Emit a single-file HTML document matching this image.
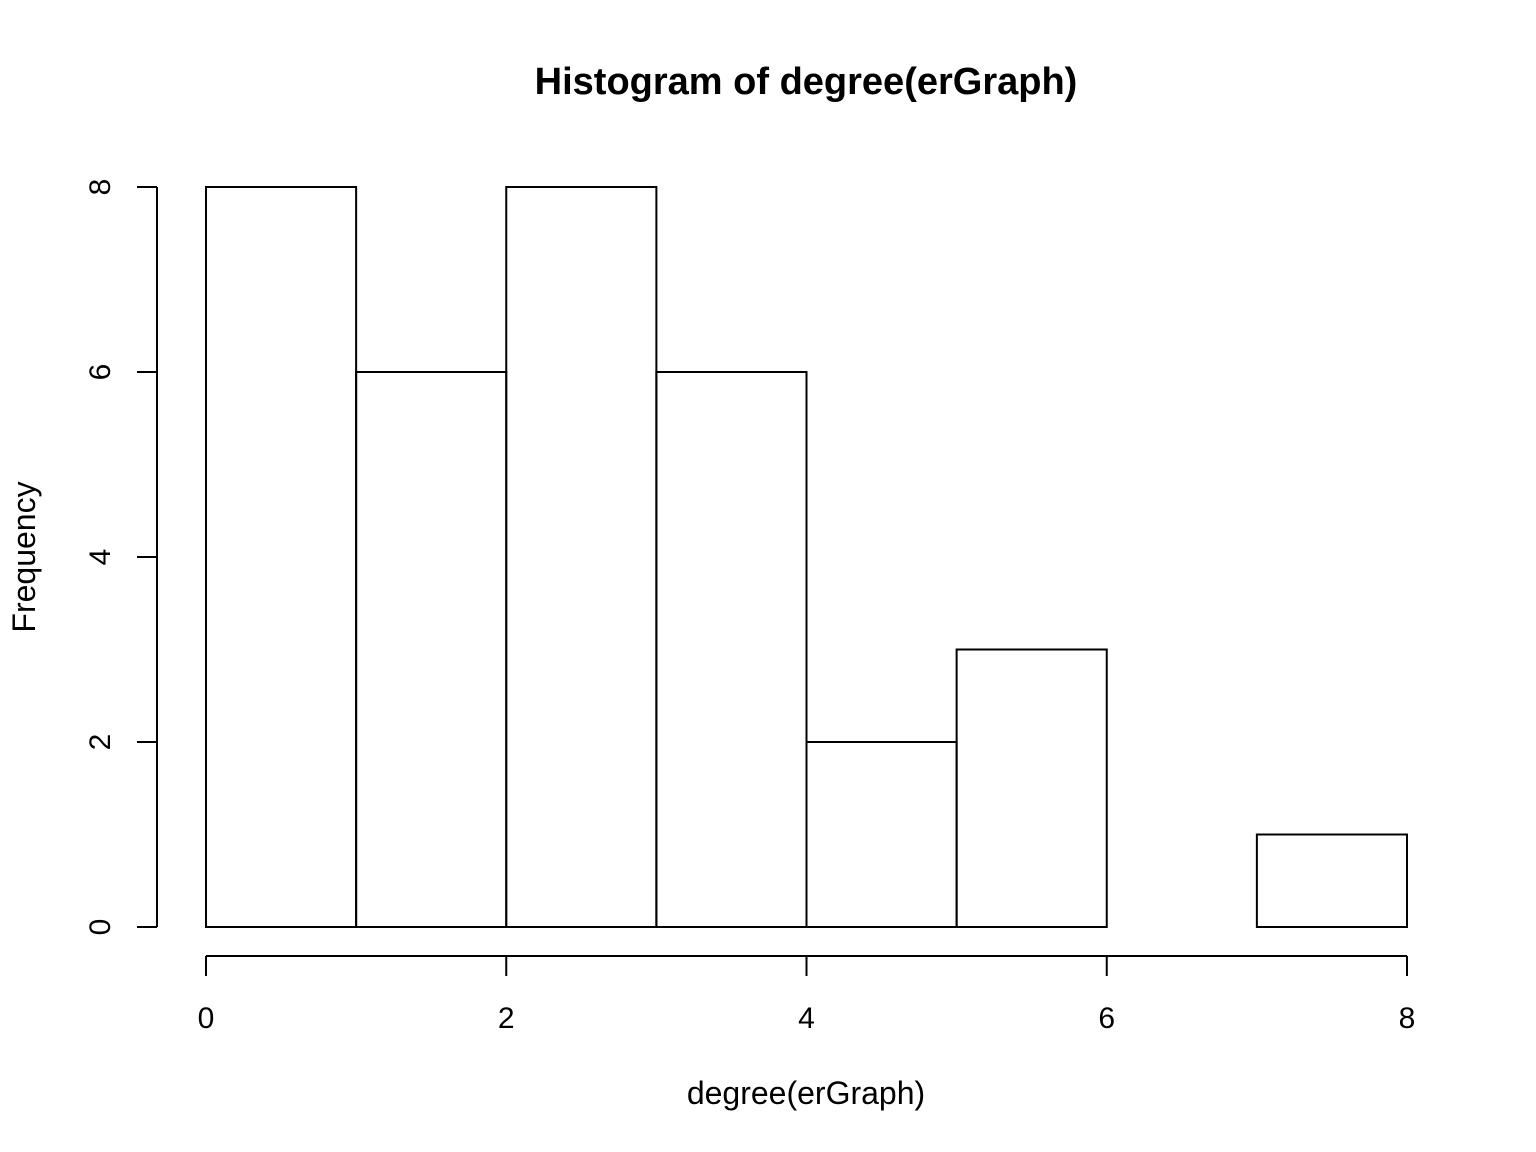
<!DOCTYPE html>
<html><head><meta charset="utf-8"><style>
html,body{margin:0;padding:0;background:#fff}
svg{display:block}
text{font-family:"Liberation Sans",Arial,sans-serif;fill:#000}
</style></head><body>
<svg id="chart" width="1536" height="1152" viewBox="0 0 1536 1152" xmlns="http://www.w3.org/2000/svg">
<text x="806" y="94" font-size="38" font-weight="bold" text-anchor="middle">Histogram of degree(erGraph)</text>
<text x="806" y="1104" font-size="32" text-anchor="middle">degree(erGraph)</text>
<text x="0" y="0" font-size="32" text-anchor="middle" transform="translate(35,557) rotate(-90)">Frequency</text>
<g id="bars"></g>
<g id="xaxis"></g>
<g id="yaxis"></g>
</svg>
<script>
const binStarts = [0,1,2,3,4,5,6,7];
const counts = [8,6,8,6,2,3,0,1];
const xTicks = [0,2,4,6,8];
const yTicks = [0,2,4,6,8];
const binWidth = 1;

const NS = "http://www.w3.org/2000/svg";
function xs(v){return 206 + v*(1407-206)/8;}
function ys(v){return 927 - v*(927-187)/8;}
function mk(tag, attrs, parent){const e=document.createElementNS(NS,tag);for(const k in attrs)e.setAttribute(k,attrs[k]);parent.appendChild(e);return e;}

const bars=document.getElementById('bars');
binStarts.forEach((b,i)=>{
  if(counts[i]<=0) return;
  const x0=xs(b), x1=xs(b+binWidth), y0=ys(counts[i]);
  const r=mk('rect',{x:x0,y:y0,width:x1-x0,height:ys(0)-y0,fill:'none',stroke:'#000','stroke-width':2},bars);
  
  
});

const xa=document.getElementById('xaxis');
mk('line',{x1:xs(xTicks[0]),x2:xs(xTicks[xTicks.length-1]),y1:956,y2:956,stroke:'#000','stroke-width':2},xa);
xTicks.forEach(t=>{
  mk('line',{x1:xs(t),x2:xs(t),y1:956,y2:976,stroke:'#000','stroke-width':2},xa);
  const tx=mk('text',{x:xs(t),y:1028,'font-size':30,'text-anchor':'middle'},xa);
  tx.textContent=t;
  
  
});

const ya=document.getElementById('yaxis');
mk('line',{x1:157,x2:157,y1:ys(yTicks[0]),y2:ys(yTicks[yTicks.length-1]),stroke:'#000','stroke-width':2},ya);
yTicks.forEach(t=>{
  mk('line',{x1:137,x2:157,y1:ys(t),y2:ys(t),stroke:'#000','stroke-width':2},ya);
  const tx=mk('text',{x:0,y:0,'font-size':30,'text-anchor':'middle',transform:'translate(110,'+ys(t)+') rotate(-90)'},ya);
  tx.textContent=t;
  
  
});
</script>
</body></html>
